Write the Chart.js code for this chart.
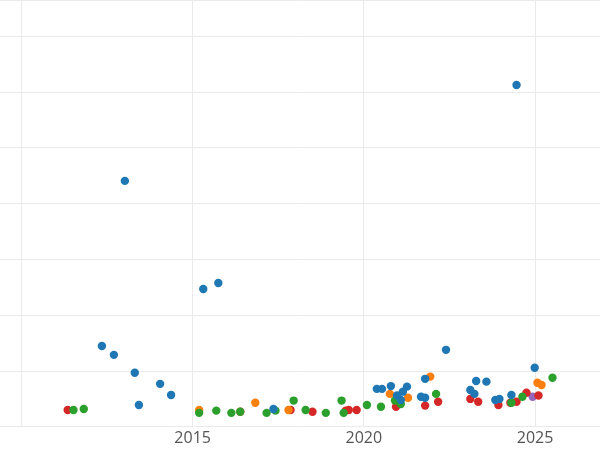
<!DOCTYPE html><html><head><style>html,body{margin:0;padding:0;background:#fff;overflow:hidden}#o{width:600px;height:450px;overflow:hidden;position:relative}#w{position:absolute;left:-5px;top:-4px;width:611px;height:454px}</style>
<script src="https://cdn.jsdelivr.net/npm/chart.js@4"></script></head><body><div id="o"><div id="w"><canvas id="c"></canvas></div></div>
<script>
const blueX=[2013.02,2024.46,2015.31,2015.75,2012.35,2012.70,2013.31,2014.05,2014.37,2013.43,2017.36,2020.38,2020.53,2020.79,2021.26,2021.14,2020.97,2021.79,2022.40,2021.67,2021.79,2023.11,2023.23,2023.28,2023.58,2023.84,2023.96,2024.31,2024.99,2021.08];
const blueY=[4.41,6.13,2.47,2.58,1.45,1.29,0.97,0.77,0.57,0.39,0.32,0.68,0.68,0.73,0.72,0.63,0.56,0.86,1.38,0.54,0.52,0.66,0.59,0.82,0.81,0.48,0.50,0.57,1.06,0.48];
const greenX=[2011.52,2011.82,2015.19,2015.69,2016.13,2016.39,2017.16,2017.42,2017.95,2018.30,2018.89,2019.35,2019.41,2020.09,2020.50,2020.91,2022.11,2024.31,2024.63,2025.51,2021.08];
const greenY=[0.30,0.32,0.25,0.29,0.25,0.27,0.25,0.29,0.47,0.30,0.25,0.47,0.25,0.39,0.36,0.47,0.59,0.43,0.54,0.88,0.41];
const redX=[2011.35,2016.39,2017.86,2018.50,2019.47,2019.56,2019.79,2020.94,2021.79,2022.17,2023.11,2023.34,2023.93,2024.28,2024.46,2024.75,2025.10];
const redY=[0.30,0.27,0.30,0.27,0.29,0.30,0.30,0.36,0.38,0.45,0.50,0.45,0.39,0.43,0.45,0.61,0.56];
const orangeX=[2015.19,2016.83,2017.80,2020.76,2021.29,2021.94,2025.07,2025.19];
const orangeY=[0.30,0.43,0.30,0.59,0.52,0.90,0.79,0.75];
const purpleX=[2024.93];
const purpleY=[0.54];
const xTicks=[2010,2015,2020,2025];
const pts=(xs,ys)=>xs.map((x,i)=>({x:x,y:ys[i]}));
const ds=(xs,ys,c)=>({data:pts(xs,ys),backgroundColor:c,borderColor:c,borderWidth:0,pointRadius:4.2,pointHoverRadius:4.2});
new Chart(document.getElementById('c'),{type:'scatter',data:{datasets:[
ds(blueX,blueY,'#1f77b4'),ds(greenX,greenY,'#2ca02c'),ds(orangeX,orangeY,'#ff7f0e'),ds(redX,redY,'#d62728'),ds(purpleX,purpleY,'#9467bd')]},
options:{responsive:true,maintainAspectRatio:false,animation:false,layout:{padding:0},
plugins:{legend:{display:false},tooltip:{enabled:false}},
scales:{x:{type:'linear',min:2009.35,max:2026.95,afterBuildTicks:a=>{a.ticks=xTicks.map(v=>({value:v}));},
ticks:{callback:v=>v===2010?'':String(v),color:'#555',font:{family:'Open Sans',size:16},maxRotation:0,padding:2},
grid:{color:'#eaeaea',drawTicks:false},border:{display:false}},
y:{min:0,max:7.65,ticks:{display:false,stepSize:1},grid:{color:'#eaeaea',drawTicks:false},border:{display:false}}}}});
</script></body></html>
